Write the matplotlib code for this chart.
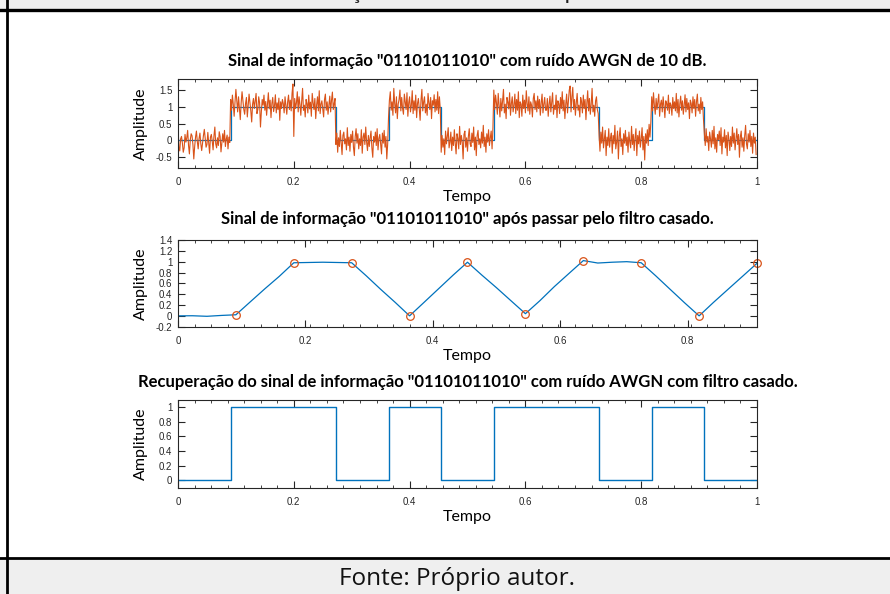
import matplotlib
matplotlib.use('Agg')
import matplotlib.pyplot as plt
import numpy as np
from matplotlib.patches import Rectangle
from matplotlib.lines import Line2D
from matplotlib.ticker import MultipleLocator

# bit sequence "01101011010"
bits = [0, 1, 1, 0, 1, 0, 1, 1, 0, 1, 0]

# AWGN, hundredths, one row per bit
noise = [
    [45, -20, -31, 5, 12, -8, -35, -22, 18, -5, 8, 30, -15, -40, 2, 20, 14, -12, -55, -18,
     10, 28, -3, -25, 6, 22, -10, -30, -8, 15, 33, 5, -20, -12, 24, -6, -38, 10, 18, -2,
     -28, 14, 40, -10, -22, 8, -15, 26, 12, -34, -8, 20, -5, 30, -18, 4, 16, -25, 10, -6],
    [22, -10, 35, 8, -28, 15, 52, 18, -15, 30, -5, -38, 12, 45, 20, -8, -22, 10, 28, -30,
     5, 38, 14, -12, -45, 8, 25, -5, 18, 40, -20, -8, 30, 12, -60, -15, 22, 5, 35, -10,
     16, -25, 8, 42, -6, 20, -32, 10, 28, -14, 4, 36, -18, 12, -8, 26, -40, 15, -5, 22],
    [10, -18, 30, 5, -22, 15, 35, -8, 20, -12, 40, 68, -88, 25, -5, 12, 45, -15, 30, 8,
     -25, 18, 55, -10, 5, -30, 22, 10, -18, 35, -6, 14, -28, 40, 12, -8, 25, -35, 6, 30,
     -12, 48, -20, 8, 18, -5, -30, 22, 38, -10, 15, -22, 5, 32, -15, 20, 44, -8, 10, 25],
    [-12, 22, -35, 8, -18, 30, -5, -42, 15, 25, -10, 5, -28, 38, -15, 10, -32, 18, -6, 28,
     -20, -45, 12, 35, -8, 20, -25, 5, -15, 32, -38, 10, 22, -12, 40, -5, -30, 15, -18, 8,
     28, -22, -50, 12, -5, 25, -15, 35, -28, 6, 18, -10, -40, 22, -8, 30, -20, 12, -55, -10],
    [-30, 20, 45, -10, 15, -25, 55, 10, -18, 30, -35, 8, 22, 50, -12, 28, -5, -22, 38, 15,
     -8, 42, -28, 12, 30, -15, 5, 48, -20, 18, -10, 35, -32, 10, 25, -5, -40, 20, 52, -12,
     15, 30, -18, 8, -25, 40, 12, -8, 28, -35, 18, 5, 36, -15, 22, -10, 45, -20, 30, -8],
    [-35, 15, -20, 5, -42, 28, -10, 12, 38, -22, -5, 25, -30, 10, -15, 32, -8, -40, 20, 6,
     -25, 42, -12, 15, -5, -55, 18, 28, -20, 8, -32, 12, 35, -10, -18, 22, -6, 40, -28, 10,
     -45, 15, 30, -12, 5, -22, 25, -8, 45, -18, 10, -35, 20, -5, 32, -15, 8, 28, -25, 38],
    [50, -8, 35, 12, -22, 40, 5, -30, 25, -12, 18, 52, -18, 8, -35, 28, 14, -6, 42, -25,
     10, 30, -15, 5, 38, -20, 22, -10, 45, -32, 15, 8, -28, 35, -5, 20, -18, 48, 10, -12,
     30, -22, 15, 5, -30, 25, 40, -8, 18, -15, 32, -5, 22, -25, 12, 38, -18, 8, 28, -10],
    [-10, 25, -28, 8, 32, -15, 12, 42, -22, 5, -8, 35, -32, 18, 10, -20, 28, -5, 45, -12,
     20, -35, 8, 38, -18, 15, 50, 62, -15, 30, 58, -8, 22, -25, 12, 40, -10, 5, -30, 28,
     15, -18, 35, -5, 22, -38, 10, 48, -12, 25, -22, 8, 55, -15, 5, -28, 18, 30, -8, -20],
    [15, -32, 25, -8, 40, -22, 5, 30, -45, 10, -15, 35, -20, 8, 22, -38, 15, -10, 45, -25,
     -5, 28, -55, 12, 38, -18, 5, -42, 20, -8, 30, -15, 10, -35, 25, -5, -22, 42, -12, 18,
     -30, 8, 35, -45, 15, -10, 28, -20, 5, 38, -28, 12, -58, 20, -8, 32, -15, 48, 10, 55],
    [30, -12, 42, 5, -22, 25, -8, 15, 38, -28, 8, 20, -15, 30, 2, -32, 18, 10, -10, 35,
     -20, 12, 5, -25, 28, -5, 15, -12, 40, -18, 22, -30, 8, 32, -10, 18, -22, 5, 36, -15,
     25, -8, 12, -35, 20, 10, -18, 30, -5, 22, -28, 15, 38, -12, 8, -20, 28, -8, 15, -38],
    [20, -15, 35, -5, 12, -30, 25, 5, -20, 30, -10, 42, -25, 8, -35, 18, 2, 28, -15, 38,
     -40, 10, -5, 32, -22, 15, -45, 25, 5, -30, 12, -18, 40, -8, 22, -28, 5, 35, -12, 18,
     -50, 10, 28, -20, 8, -32, 15, 45, -10, -25, 20, -5, 30, -18, 12, -38, 22, -8, 10, -42],
]

# matched filter output, quarter-bit resolution
mf_t = [0.0, 0.0227, 0.0455, 0.0682, 0.0909, 0.1136, 0.1364, 0.1591, 0.1818, 0.2045, 0.2273,
        0.25, 0.2727, 0.2955, 0.3182, 0.3409, 0.3636, 0.3864, 0.4091, 0.4318, 0.4545, 0.4773,
        0.5, 0.5227, 0.5455, 0.5682, 0.5909, 0.6136, 0.6364, 0.6591, 0.6818, 0.7045, 0.7273,
        0.75, 0.7727, 0.7955, 0.8182, 0.8409, 0.8636, 0.8864, 0.9091]
mf_v = [0.0, 0.002, -0.008, 0.008, 0.02, 0.26, 0.50, 0.73, 0.98, 0.985, 0.99, 0.985, 0.98,
        0.74, 0.49, 0.25, 0.0, 0.25, 0.50, 0.75, 0.99, 0.75, 0.52, 0.28, 0.04, 0.28, 0.54,
        0.78, 1.02, 0.975, 0.99, 1.0, 0.98, 0.74, 0.49, 0.24, 0.0, 0.25, 0.49, 0.73, 0.97]
samp_t = [0.0909, 0.1818, 0.2727, 0.3636, 0.4545, 0.5455, 0.6364, 0.7273, 0.8182, 0.9091]
samp_v = [0.02, 0.98, 0.98, 0.0, 0.99, 0.04, 1.02, 0.98, 0.0, 0.97]

# recovered bits
rec_bits = [0, 1, 1, 0, 1, 0, 1, 1, 0, 1, 0]

titles = ['Sinal de informação "01101011010" com ruído AWGN de 10 dB.',
          'Sinal de informação "01101011010" após passar pelo filtro casado.',
          'Recuperação do sinal de informação "01101011010" com ruído AWGN com filtro casado.']

BLUE = '#0072BD'
ORANGE = '#D95319'
tick_font = ['Liberation Sans Narrow', 'Liberation Sans', 'DejaVu Sans']

fig = plt.figure(figsize=(8.9, 5.94), dpi=100)
W, H = 890.0, 594.0

# page decorations: gray bands and black frame lines
fig.add_artist(Rectangle((0, 1 - 9.5 / H), 1, 9.5 / H, transform=fig.transFigure,
                         facecolor='#efefef', edgecolor='none', zorder=0))
fig.add_artist(Rectangle((0, 0), 1, 1 - 558 / H, transform=fig.transFigure,
                         facecolor='#efefef', edgecolor='none', zorder=0))
fig.add_artist(Line2D([0, 1], [1 - 9.8 / H] * 2, transform=fig.transFigure, color='black', lw=2.4))
fig.add_artist(Line2D([0, 1], [1 - 558 / H] * 2, transform=fig.transFigure, color='black', lw=2.0))
fig.add_artist(Line2D([7 / W] * 2, [0, 1], transform=fig.transFigure, color='black', lw=2.0))
fig.text(437 / W, 1 + 1 / H, 'Resultado da simulação do filtro casado aplicado ao sinal.',
         ha='center', va='baseline', family='Lato', fontsize=16.5, color='#222222')
fig.text(457 / W, 1 - 579 / H, 'Fonte: Próprio autor.', ha='center', va='center',
         family='Open Sans', fontsize=17.5, color='#111111')

# axes boxes (pixel coords: top, bottom) and title centre above the box
boxes = [(79.3, 167.7), (240.0, 326.7), (400.0, 487.5)]
title_gap = [18, 21, 17.5]
axes = []
for top, bot in boxes:
    ax = fig.add_axes([178 / W, 1 - bot / H, 579 / W, (bot - top) / H])
    axes.append(ax)

# 1) noisy signal
ax = axes[0]
nb = len(bits)
edges = np.arange(nb + 1) / nb
t_noisy, noisy = [], []
for k, (b, row) in enumerate(zip(bits, noise)):
    n = len(row)
    t_noisy.extend(k / nb + np.arange(n) / (n * nb))
    noisy.extend(b + np.array(row) / 100.0)
ax.step(edges, bits + [bits[-1]], where='post', color=BLUE, lw=0.9)
ax.plot(t_noisy, noisy, color=ORANGE, lw=0.8)
ax.set_xlim(0, 1)
ax.set_ylim(-0.81, 1.82)
ax.set_yticks([-0.5, 0, 0.5, 1, 1.5])
ax.set_yticklabels(['-0.5', '0', '0.5', '1', '1.5'])
ax.set_xticks([0, 0.2, 0.4, 0.6, 0.8, 1])
ax.set_xticklabels(['0', '0.2', '0.4', '0.6', '0.8', '1'])
ax.xaxis.set_minor_locator(MultipleLocator(1 / 35))

# 2) matched filter output
ax = axes[1]
ax.plot(mf_t, mf_v, color=BLUE, lw=0.9)
ax.plot(samp_t, samp_v, 'o', mfc='none', mec=ORANGE, ms=5.5, mew=0.9, clip_on=False)
ax.set_xlim(0, 10 / 11)
ax.set_ylim(-0.2, 1.4)
ax.set_yticks([-0.2, 0, 0.2, 0.4, 0.6, 0.8, 1, 1.2, 1.4])
ax.set_yticklabels(['-0.2', '0', '0.2', '0.4', '0.6', '0.8', '1', '1.2', '1.4'])
ax.set_xticks([0, 0.2, 0.4, 0.6, 0.8])
ax.set_xticklabels(['0', '0.2', '0.4', '0.6', '0.8'])
ax.xaxis.set_minor_locator(MultipleLocator((10 / 11) / 35))

# 3) recovered signal
ax = axes[2]
ax.step(edges, rec_bits + [rec_bits[-1]], where='post', color=BLUE, lw=1.0)
ax.set_xlim(0, 1)
ax.set_ylim(-0.1, 1.1)
ax.set_yticks([0, 0.2, 0.4, 0.6, 0.8, 1])
ax.set_yticklabels(['0', '0.2', '0.4', '0.6', '0.8', '1'])
ax.set_xticks([0, 0.2, 0.4, 0.6, 0.8, 1])
ax.set_xticklabels(['0', '0.2', '0.4', '0.6', '0.8', '1'])
ax.xaxis.set_minor_locator(MultipleLocator(1 / 35))

for ax, title, gap in zip(axes, titles, title_gap):
    hpx = ax.bbox.height
    ax.set_title(title, family='Lato', fontweight='bold', fontsize=12,
                 y=1 + gap / hpx, va='center', pad=0)
    ax.set_xlabel('Tempo', family='Lato', fontsize=11.5, va='center')
    ax.set_ylabel('Amplitude', family='Lato', fontsize=11.5, va='center')
    ax.xaxis.set_label_coords(0.5, -29 / hpx)
    ax.yaxis.set_label_coords(-37 / 579, 0.5)
    ax.tick_params(which='both', direction='in', top=True, right=True, colors='#262626',
                   labelsize=7)
    ax.tick_params(axis='x', which='major', length=5, pad=6.5)
    ax.tick_params(axis='y', which='major', length=5, pad=4)
    ax.tick_params(axis='x', which='minor', length=2.5)
    for lab in ax.get_xticklabels() + ax.get_yticklabels():
        lab.set_family(tick_font)
    for s in ax.spines.values():
        s.set_color('#262626')
        s.set_linewidth(0.8)

fig.savefig('out.png', dpi=100)
